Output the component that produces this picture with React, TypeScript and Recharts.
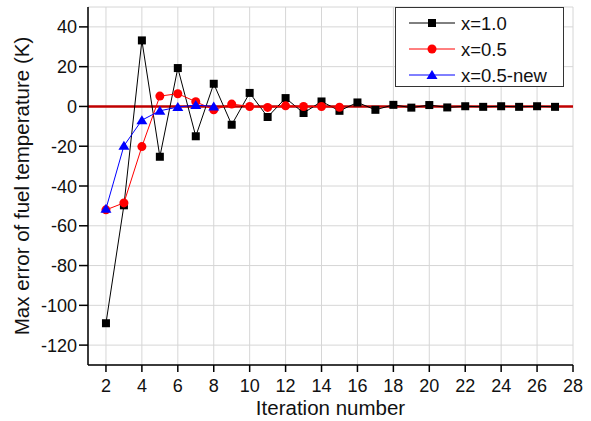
import { LineChart, Line, XAxis, YAxis, CartesianGrid, ReferenceLine, Legend } from "recharts";

// iteration numbers and max error (K) for each run
const iterX10 = [2, 3, 4, 5, 6, 7, 8, 9, 10, 11, 12, 13, 14, 15, 16, 17, 18, 19, 20, 21, 22, 23, 24, 25, 26, 27];
const errX10 = [-109, -49.7, 33.2, -25.3, 19.3, -15, 11.4, -9.2, 6.8, -5.3, 4.2, -3.3, 2.5, -2.2, 2, -1.7, 0.8, -0.6, 0.7, -0.5, 0.1, -0.2, 0.1, -0.2, 0.1, -0.2];
const iterX05 = [2, 3, 4, 5, 6, 7, 8, 9, 10, 11, 12, 13, 14, 15];
const errX05 = [-52, -48.5, -20.2, 5.2, 6.4, 2.4, -1.7, 1.2, 0, -0.5, 0.3, 0, 0, -0.4];
const iterX05new = [2, 3, 4, 5, 6, 7, 8];
const errX05new = [-51.5, -19.8, -6.9, -2.2, -0.3, 0.7, 0];

const xTicks = [2, 4, 6, 8, 10, 12, 14, 16, 18, 20, 22, 24, 26, 28];
const yTicks = [-120, -110, -100, -90, -80, -70, -60, -50, -40, -30, -20, -10, 0, 10, 20, 30, 40];

const FONT = "'Liberation Sans', Arial, sans-serif";

const toRows = (xs: number[], ys: number[]) => xs.map((it, i) => ({ it, err: ys[i] }));

const series = [
  { name: "x=1.0", color: "#000000", shape: "square", data: toRows(iterX10, errX10) },
  { name: "x=0.5", color: "#ff0000", shape: "circle", data: toRows(iterX05, errX05) },
  { name: "x=0.5-new", color: "#0000ff", shape: "triangle", data: toRows(iterX05new, errX05new) },
];

function Marker({ shape, cx, cy, color }: { shape: string; cx: number; cy: number; color: string }) {
  if (shape === "square") return <rect x={cx - 4} y={cy - 4} width={8} height={8} fill={color} />;
  if (shape === "circle") return <circle cx={cx} cy={cy} r={4.5} fill={color} />;
  return <path d={`M${cx},${cy - 5} L${cx + 5.5},${cy + 4} L${cx - 5.5},${cy + 4} Z`} fill={color} />;
}

function XTick(props: any) {
  const { x, y, payload } = props;
  return (
    <g>
      <line x1={x} y1={y} x2={x} y2={y + 7} stroke="#000" strokeWidth={1.5} />
      <text x={x} y={y + 27} textAnchor="middle" fontSize={18} fontFamily={FONT} fill="#111">
        {payload.value}
      </text>
    </g>
  );
}

function YTick(props: any) {
  const { x, y, payload } = props;
  const major = payload.value % 20 === 0;
  if (!major) return <line x1={x - 5} y1={y} x2={x} y2={y} stroke="#000" strokeWidth={1} />;
  return (
    <g>
      <line x1={x - 9} y1={y} x2={x} y2={y} stroke="#000" strokeWidth={1.5} />
      <text x={x - 11} y={y + 6.5} textAnchor="end" fontSize={18} fontFamily={FONT} fill="#111">
        {payload.value}
      </text>
    </g>
  );
}

function LegendBox() {
  return (
    <div style={{ width: 167, height: 78, border: "1px solid #333", background: "#fff" }}>
      <svg width={167} height={78}>
        {series.map((s, i) => {
          const cy = 15 + i * 26;
          return (
            <g key={s.name}>
              <line x1={13} y1={cy} x2={59} y2={cy} stroke={s.color} strokeWidth={1} />
              <Marker shape={s.shape} cx={36} cy={cy} color={s.color} />
              <text x={65} y={cy + 6.5} fontSize={18.5} fontFamily={FONT} fill="#111">
                {s.name}
              </text>
            </g>
          );
        })}
      </svg>
    </div>
  );
}

export default function App() {
  return (
    <div style={{ position: "absolute", left: 0, top: 0, width: 591, height: 421, background: "#fff" }}>
      <LineChart width={591} height={421} margin={{ top: 7, right: 18, bottom: 0, left: 0 }}>
        <CartesianGrid stroke="#d6d6d6" strokeWidth={1} />
        <XAxis
          dataKey="it"
          type="number"
          domain={[1, 28]}
          ticks={xTicks}
          allowDuplicatedCategory={false}
          height={56}
          tickSize={0}
          tickMargin={0}
          tick={<XTick />}
          axisLine={{ stroke: "#000", strokeWidth: 1.5 }}
          label={{ value: "Iteration number", position: "insideBottom", offset: 6, fontSize: 20.5, fontFamily: FONT, fill: "#111" }}
        />
        <XAxis xAxisId="top" orientation="top" type="number" domain={[1, 28]} height={0} tick={false} axisLine={{ stroke: "#000", strokeWidth: 1.5 }} />
        <YAxis
          type="number"
          domain={[-130, 50]}
          ticks={yTicks}
          width={88}
          tickSize={0}
          tickMargin={0}
          tick={<YTick />}
          axisLine={{ stroke: "#000", strokeWidth: 1.5 }}
          label={{ value: "Max error of fuel temperature (K)", angle: -90, position: "insideLeft", offset: 22, fontSize: 20.5, fontFamily: FONT, fill: "#111", style: { textAnchor: "middle" } }}
        />
        <YAxis yAxisId="right" orientation="right" type="number" domain={[-130, 50]} width={0} tick={false} axisLine={{ stroke: "#000", strokeWidth: 1.5 }} />
        <ReferenceLine y={0} stroke="#c00000" strokeWidth={2.5} />
        {series.map((s) => (
          <Line
            key={s.name}
            data={s.data}
            dataKey="err"
            name={s.name}
            stroke={s.color}
            strokeWidth={1}
            isAnimationActive={false}
            dot={(p: any) => <Marker key={`${s.name}-${p.index}`} shape={s.shape} cx={p.cx} cy={p.cy} color={s.color} />}
            activeDot={false}
          />
        ))}
        <Legend
          layout="vertical"
          align="center"
          verticalAlign="middle"
          content={() => <LegendBox />}
          wrapperStyle={{ left: 395, top: 7, width: 169, height: 80 }}
        />
      </LineChart>
    </div>
  );
}
